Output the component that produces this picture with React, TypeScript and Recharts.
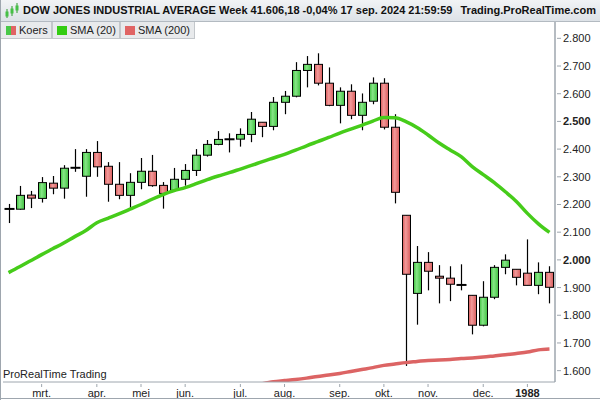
import React from 'react';
import { ComposedChart, Bar, Line, XAxis, YAxis } from 'recharts';

// weekly candles, week start dates (1987-02-09 .. 1988-01-18)
const weeks = [
  '87-02-09', '87-02-16', '87-02-23', '87-03-02', '87-03-09', '87-03-16', '87-03-23', '87-03-30',
  '87-04-06', '87-04-13', '87-04-20', '87-04-27', '87-05-04', '87-05-11', '87-05-18', '87-05-25',
  '87-06-01', '87-06-08', '87-06-15', '87-06-22', '87-06-29', '87-07-06', '87-07-13', '87-07-20',
  '87-07-27', '87-08-03', '87-08-10', '87-08-17', '87-08-24', '87-08-31', '87-09-07', '87-09-14',
  '87-09-21', '87-09-28', '87-10-05', '87-10-12', '87-10-19', '87-10-26', '87-11-02', '87-11-09',
  '87-11-16', '87-11-23', '87-11-30', '87-12-07', '87-12-14', '87-12-21', '87-12-28', '88-01-04',
  '88-01-11', '88-01-18',
];

const opens = [
  2184, 2183, 2234, 2222, 2277, 2259, 2331, 2302, 2388, 2338, 2273, 2233, 2280, 2320, 2269, 2251,
  2291, 2323, 2378, 2417, 2435, 2436, 2453, 2497, 2482, 2569, 2591, 2684, 2706, 2638, 2558, 2609,
  2522, 2573, 2638, 2479, 2161, 1879, 1991, 1941, 1934, 1910, 1872, 1764, 1865, 1973, 1966, 1952,
  1908, 1955,
];
const highs = [
  2202, 2267, 2249, 2299, 2303, 2342, 2400, 2400, 2429, 2353, 2353, 2313, 2368, 2379, 2281, 2332,
  2346, 2400, 2433, 2465, 2457, 2475, 2534, 2497, 2588, 2610, 2714, 2736, 2746, 2695, 2623, 2634,
  2601, 2659, 2656, 2526, 2161, 2050, 2028, 1981, 1977, 1984, 1872, 1923, 1981, 2020, 1966, 2074,
  1991, 1977,
];
const lows = [
  2133, 2181, 2187, 2207, 2237, 2221, 2318, 2228, 2300, 2210, 2219, 2188, 2255, 2264, 2185, 2249,
  2268, 2303, 2373, 2414, 2388, 2409, 2425, 2443, 2468, 2526, 2587, 2623, 2630, 2555, 2493, 2508,
  2468, 2562, 2471, 2204, 1617, 1766, 1890, 1843, 1851, 1890, 1731, 1760, 1858, 1948, 1908, 1908,
  1876, 1843,
];
const closes = [
  2184, 2233, 2223, 2279, 2259, 2331, 2334, 2388, 2336, 2273, 2233, 2280, 2320, 2268, 2240, 2291,
  2323, 2378, 2417, 2435, 2436, 2453, 2508, 2482, 2569, 2591, 2684, 2706, 2638, 2558, 2609, 2522,
  2569, 2638, 2479, 2244, 1948, 1991, 1959, 1934, 1912, 1909, 1764, 1865, 1973, 1999, 1937, 1908,
  1955, 1901,
];

const sma20 = [
  1954, 1975, 1997, 2019, 2040, 2061, 2084, 2106, 2134, 2150, 2166, 2183, 2200, 2219, 2236, 2250,
  2261, 2275, 2290, 2303, 2315, 2328, 2341, 2355, 2368, 2381, 2396, 2412, 2427, 2442, 2458, 2472,
  2486, 2501, 2514, 2513, 2499, 2478, 2451, 2422, 2397, 2373, 2337, 2308, 2279, 2246, 2211, 2168,
  2130, 2099,
];

// only the visible end of the 200-week average (earlier weeks lie under the plot)
const sma200 = [
  null, null, null, null, null, null, null, null, null, null, null, null, null, null, null, null,
  null, null, null, null, null, null, null, 1553, 1560, 1564, 1568, 1573, 1579, 1584, 1590, 1597,
  1604, 1611, 1619, 1624, 1629, 1633, 1637, 1638, 1640, 1644, 1646, 1649, 1653, 1657, 1662, 1667,
  1675, 1678,
];

const monthLabels: Record<string, string> = {
  '87-03-02': 'mrt.', '87-04-06': 'apr.', '87-05-04': 'mei', '87-06-01': 'jun.',
  '87-07-06': 'jul.', '87-08-03': 'aug.', '87-09-07': 'sep.', '87-10-05': 'okt.',
  '87-11-02': 'nov.', '87-12-07': 'dec.', '88-01-04': '1988',
};

const yTicks = [1600, 1700, 1800, 1900, 2000, 2100, 2200, 2300, 2400, 2500, 2600, 2700, 2800];

const FONT = '"Liberation Sans", Arial, sans-serif';
const AXIS = '#9ea6ae';

const data = weeks.map((w, i) => ({
  week: w,
  open: opens[i],
  high: highs[i],
  low: lows[i],
  close: closes[i],
  range: [lows[i], highs[i]],
  sma20: sma20[i],
  sma200: sma200[i],
}));

const fmt = (v: number) => `${Math.floor(v / 1000)}.${String(v % 1000).padStart(3, '0')}`;

const Candle = (props: any) => {
  const { x, y, width, height, payload } = props;
  if (x == null || !payload) return null;
  const { open, close, high, low } = payload;
  const top = height >= 0 ? y : y + height;
  const k = Math.abs(height) / (high - low);
  const py = (v: number) => top + (high - v) * k;
  const cx = Math.round(x + width / 2) + 0.5;
  const bTop = py(Math.max(open, close));
  const bBot = py(Math.min(open, close));
  const up = close >= open;
  return (
    <g>
      <line x1={cx} x2={cx} y1={py(high)} y2={py(low)} stroke="#000" strokeWidth={1.2} />
      {bBot - bTop < 1.5 ? (
        <line x1={cx - 5} x2={cx + 5} y1={(bTop + bBot) / 2} y2={(bTop + bBot) / 2} stroke="#000" strokeWidth={2} />
      ) : (
        <rect
          x={cx - 4}
          y={bTop}
          width={8}
          height={bBot - bTop}
          fill={up ? 'url(#gUp)' : 'url(#gDown)'}
          stroke="#000"
          strokeWidth={1}
        />
      )}
    </g>
  );
};

const YTick = (props: any) => {
  const { x, y, payload } = props;
  const bold = payload.value === 2500 || payload.value === 2000;
  return (
    <g>
      <line x1={x} x2={x + 4} y1={y} y2={y} stroke={AXIS} />
      <text x={x + 6} y={y + 4} fontSize={11} fontFamily={FONT} fill="#222" fontWeight={bold ? 700 : 400}>
        {fmt(payload.value)}
      </text>
    </g>
  );
};

const XTick = (props: any) => {
  const { x, y, payload } = props;
  const label = monthLabels[payload.value];
  if (!label) return null;
  const bold = label === '1988';
  return (
    <g>
      <line x1={x} x2={x} y1={y} y2={y + 3} stroke={AXIS} />
      <text x={x} y={y + 13} textAnchor="middle" fontSize={11} fontFamily={FONT} fill="#222" fontWeight={bold ? 700 : 400}>
        {label}
      </text>
    </g>
  );
};

const legendBox: React.CSSProperties = {
  position: 'absolute',
  top: 22,
  height: 17,
  background: '#e8eaec',
  border: '1px solid #c3c7cb',
  borderTop: 'none',
  fontFamily: FONT,
  fontSize: 11,
  lineHeight: '16px',
  color: '#222',
  boxSizing: 'border-box',
  whiteSpace: 'nowrap',
};

const swatch = (color: string): React.CSSProperties => ({
  position: 'absolute',
  top: 4,
  width: 10,
  height: 9,
  background: color,
});

export default function App() {
  return (
    <div style={{ position: 'fixed', left: 0, top: 0, width: 600, height: 400, background: '#fff', overflow: 'hidden' }}>
      <ComposedChart
        width={600}
        height={400}
        data={data}
        margin={{ top: 22, right: 0, bottom: 0, left: 3 }}
        barCategoryGap={0}
      >
        <defs>
          <linearGradient id="gUp" x1="0" y1="0" x2="1" y2="0">
            <stop offset="0%" stopColor="#3fc23f" />
            <stop offset="40%" stopColor="#86e686" />
            <stop offset="100%" stopColor="#40c040" />
          </linearGradient>
          <linearGradient id="gDown" x1="0" y1="0" x2="1" y2="0">
            <stop offset="0%" stopColor="#d85a5a" />
            <stop offset="40%" stopColor="#f29a9a" />
            <stop offset="100%" stopColor="#d85c5c" />
          </linearGradient>
        </defs>
        <XAxis
          dataKey="week"
          height={18}
          interval={0}
          tickSize={0}
          tickLine={false}
          axisLine={{ stroke: AXIS }}
          tick={<XTick />}
        />
        <YAxis
          orientation="right"
          width={45}
          domain={[1559, 2859]}
          allowDataOverflow
          ticks={yTicks}
          tickSize={0}
          tickLine={false}
          axisLine={{ stroke: AXIS, strokeWidth: 1.5 }}
          tick={<YTick />}
        />
        <Bar dataKey="range" barSize={9} shape={<Candle />} isAnimationActive={false} />
        <Line
          dataKey="sma200"
          type="monotone"
          stroke="#dc6464"
          strokeWidth={3.5}
          dot={false}
          activeDot={false}
          isAnimationActive={false}
        />
        <Line
          dataKey="sma20"
          type="monotone"
          stroke="#46cc1a"
          strokeWidth={3.5}
          dot={false}
          activeDot={false}
          isAnimationActive={false}
        />
      </ComposedChart>

      {/* header */}
      <div
        style={{
          position: 'absolute',
          left: 0,
          top: 0,
          width: 600,
          height: 22,
          boxSizing: 'border-box',
          background: 'linear-gradient(#f1f3f5, #dde2e7)',
          borderBottom: '1px solid #b3bac1',
          fontFamily: FONT,
          fontWeight: 700,
          fontSize: 11,
          lineHeight: '21px',
          color: '#111',
          whiteSpace: 'nowrap',
        }}
      >
        <svg width={16} height={16} style={{ position: 'absolute', left: 4, top: 3 }}>
          <line x1={3} x2={3} y1={6} y2={15} stroke="#2c9a2c" />
          <rect x={1.5} y={8.5} width={3} height={5} fill="#45c045" />
          <line x1={8} x2={8} y1={3} y2={13} stroke="#2c9a2c" />
          <rect x={6.5} y={5.5} width={3} height={5} fill="#45c045" />
          <line x1={13} x2={13} y1={0} y2={10} stroke="#2c9a2c" />
          <rect x={11.5} y={2.5} width={3} height={5} fill="#45c045" />
        </svg>
        <span style={{ position: 'absolute', left: 23 }}>
          DOW JONES INDUSTRIAL AVERAGE Week 41.606,18 -0,04% 17 sep. 2024 21:59:59
        </span>
        <span style={{ position: 'absolute', right: 4 }}>Trading.ProRealTime.com</span>
      </div>

      {/* legend */}
      <div style={{ ...legendBox, left: 0, width: 52 }}>
        <div style={{ ...swatch('#e06464'), left: 5 }} />
        <div style={{ ...swatch('#48c848'), left: 5, width: 5 }} />
        <span style={{ position: 'absolute', left: 18 }}>Koers</span>
      </div>
      <div style={{ ...legendBox, left: 52, width: 68 }}>
        <div style={{ ...swatch('#33cc11'), left: 4 }} />
        <span style={{ position: 'absolute', left: 17 }}>SMA (20)</span>
      </div>
      <div style={{ ...legendBox, left: 120, width: 75 }}>
        <div style={{ ...swatch('#e06464'), left: 4 }} />
        <span style={{ position: 'absolute', left: 17 }}>SMA (200)</span>
      </div>

      <div
        style={{
          position: 'absolute',
          left: 3,
          top: 368,
          fontFamily: FONT,
          fontSize: 11,
          color: '#222',
          whiteSpace: 'nowrap',
        }}
      >
        ProRealTime Trading
      </div>

      {/* frame */}
      <div style={{ position: 'absolute', left: 0, top: 0, width: 1, height: 400, background: AXIS }} />
      <div style={{ position: 'absolute', left: 0, top: 398, width: 600, height: 1, background: AXIS }} />
    </div>
  );
}
